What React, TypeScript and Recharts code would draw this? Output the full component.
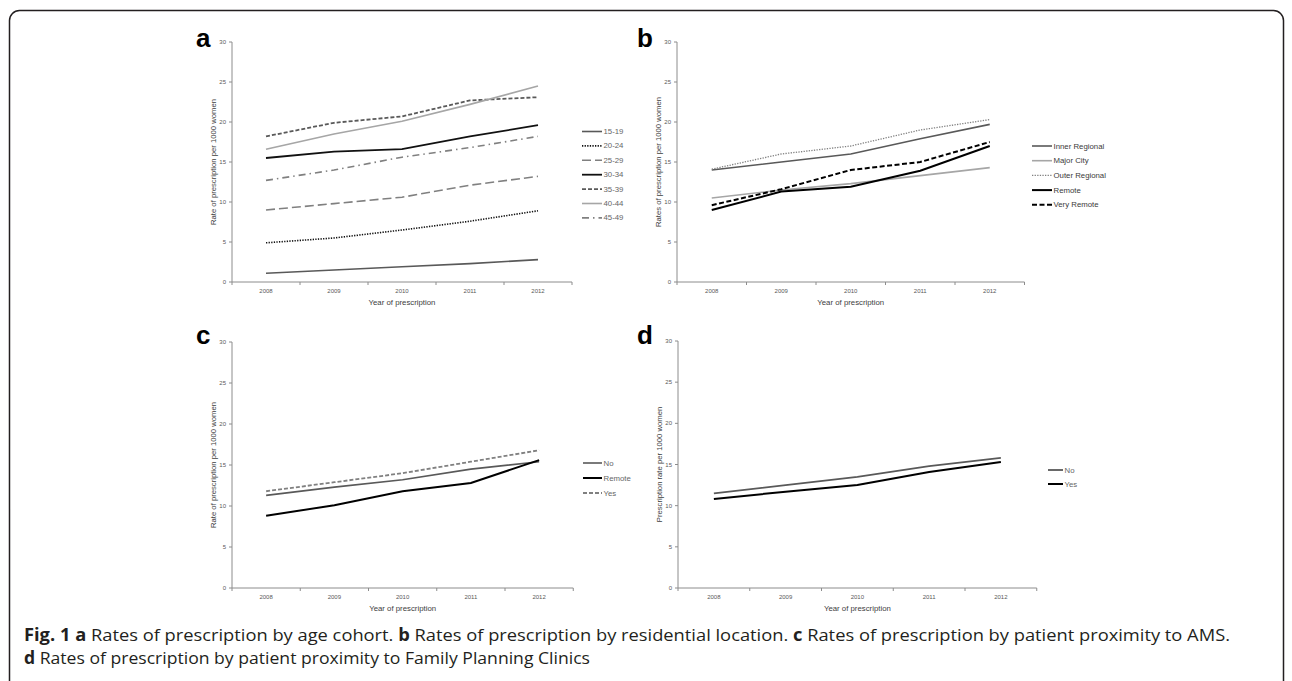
import React from "react";
import { LineChart, Line, XAxis, YAxis } from "recharts";

// ---------- data ----------
const years = ["2008", "2009", "2010", "2011", "2012"];
const yTicks = [0, 5, 10, 15, 20, 25, 30];

// Panel a: age cohorts
const age1519 = [1.1, 1.5, 1.9, 2.3, 2.8];
const age2024 = [4.9, 5.5, 6.5, 7.6, 8.9];
const age2529 = [9.0, 9.8, 10.6, 12.1, 13.2];
const age3034 = [15.5, 16.3, 16.6, 18.2, 19.6];
const age3539 = [18.2, 19.9, 20.7, 22.7, 23.1];
const age4044 = [16.6, 18.5, 20.1, 22.2, 24.5];
const age4549 = [12.7, 14.0, 15.6, 16.8, 18.2];

// Panel b: residential location
const innerRegional = [14.0, 15.0, 16.0, 17.9, 19.7];
const majorCity = [10.5, 11.5, 12.3, 13.3, 14.3];
const outerRegional = [14.1, 16.0, 17.0, 19.0, 20.3];
const remoteB = [9.0, 11.3, 11.9, 13.9, 17.0];
const veryRemote = [9.6, 11.6, 14.0, 15.0, 17.5];

// Panel c: proximity to AMS
const amsNo = [11.3, 12.3, 13.2, 14.5, 15.4];
const amsRemote = [8.8, 10.1, 11.8, 12.8, 15.6];
const amsYes = [11.8, 12.9, 14.0, 15.4, 16.8];

// Panel d: proximity to Family Planning Clinics
const fpcNo = [11.5, 12.5, 13.5, 14.8, 15.8];
const fpcYes = [10.8, 11.7, 12.5, 14.1, 15.3];

// ---------- styles ----------
const axisColor = "#8c8c8c";
const tickColor = "#595959";
const chartFont = "'Liberation Sans', Arial, sans-serif";

type Series = {
  key: string;
  name: string;
  values: number[];
  color: string;
  width: number;
  dash?: string;
};

const seriesA: Series[] = [
  { key: "a1", name: "15-19", values: age1519, color: "#595959", width: 1.6 },
  { key: "a2", name: "20-24", values: age2024, color: "#111111", width: 1.6, dash: "1.3 1.3" },
  { key: "a3", name: "25-29", values: age2529, color: "#808080", width: 1.6, dash: "9 4" },
  { key: "a4", name: "30-34", values: age3034, color: "#111111", width: 1.8 },
  { key: "a5", name: "35-39", values: age3539, color: "#595959", width: 1.8, dash: "4 2" },
  { key: "a6", name: "40-44", values: age4044, color: "#a6a6a6", width: 1.6 },
  { key: "a7", name: "45-49", values: age4549, color: "#808080", width: 1.6, dash: "7 4 1.5 4" },
];

const seriesB: Series[] = [
  { key: "b1", name: "Inner Regional", values: innerRegional, color: "#595959", width: 1.6 },
  { key: "b2", name: "Major City", values: majorCity, color: "#a6a6a6", width: 1.6 },
  { key: "b3", name: "Outer Regional", values: outerRegional, color: "#808080", width: 1.3, dash: "1.3 1.3" },
  { key: "b4", name: "Remote", values: remoteB, color: "#000000", width: 2 },
  { key: "b5", name: "Very Remote", values: veryRemote, color: "#000000", width: 2, dash: "5 2.5" },
];

const seriesC: Series[] = [
  { key: "c1", name: "No", values: amsNo, color: "#595959", width: 1.6 },
  { key: "c2", name: "Remote", values: amsRemote, color: "#000000", width: 2 },
  { key: "c3", name: "Yes", values: amsYes, color: "#808080", width: 1.8, dash: "4 2" },
];

const seriesD: Series[] = [
  { key: "d1", name: "No", values: fpcNo, color: "#595959", width: 1.8 },
  { key: "d2", name: "Yes", values: fpcYes, color: "#000000", width: 2 },
];

type PanelCfg = {
  letter: string;
  yLabel: string;
  series: Series[];
  axisX: number;
  yTop: number;
  yBottom: number;
  band: number;
  legendX: number;
  legendY: number;
  legendGap: number;
  legendLen: number;
  legendColor: string;
  letterX: number;
  letterY: number;
};

const panels: PanelCfg[] = [
  {
    letter: "a",
    yLabel: "Rate of prescription per 1000 women",
    series: seriesA,
    axisX: 232, yTop: 42, yBottom: 282, band: 68,
    legendX: 582, legendY: 131.5, legendGap: 14.4, legendLen: 20, legendColor: "#666666",
    letterX: 196, letterY: 47,
  },
  {
    letter: "b",
    yLabel: "Rates of prescription per 1000 women",
    series: seriesB,
    axisX: 677, yTop: 42, yBottom: 282, band: 69.5,
    legendX: 1032, legendY: 146, legendGap: 14.7, legendLen: 20, legendColor: "#3a3a3a",
    letterX: 637, letterY: 47,
  },
  {
    letter: "c",
    yLabel: "Rate of prescription per 1000 women",
    series: seriesC,
    axisX: 232, yTop: 342, yBottom: 588, band: 68.25,
    legendX: 583, legendY: 463, legendGap: 15, legendLen: 19, legendColor: "#666666",
    letterX: 196, letterY: 344,
  },
  {
    letter: "d",
    yLabel: "Prescription rate per 1000 women",
    series: seriesD,
    axisX: 678, yTop: 341, yBottom: 588, band: 71.75,
    legendX: 1048, legendY: 470, legendGap: 14, legendLen: 15, legendColor: "#666666",
    letterX: 637, letterY: 344,
  },
];

const buildRows = (series: Series[]) =>
  years.map((year, i) => {
    const row: Record<string, string | number> = { year };
    series.forEach((s) => {
      row[s.key] = s.values[i];
    });
    return row;
  });

const makeXTick = (half: number, count: number) => (props: any) => {
  const { x, y, payload, index } = props;
  return (
    <g>
      <line x1={x - half} x2={x - half} y1={y} y2={y + 3} stroke={axisColor} strokeWidth={1} />
      {index === count - 1 && (
        <line x1={x + half} x2={x + half} y1={y} y2={y + 3} stroke={axisColor} strokeWidth={1} />
      )}
      <text
        x={x}
        y={y + 9}
        textAnchor="middle"
        dominantBaseline="central"
        fontSize={6}
        fontFamily={chartFont}
        fill={tickColor}
      >
        {payload.value}
      </text>
    </g>
  );
};

const LEFT_PAD = 42;
const TOP_PAD = 12;

function Panel({ cfg }: { cfg: PanelCfg }) {
  const plotW = cfg.band * 5;
  const plotH = cfg.yBottom - cfg.yTop;
  const left = cfg.axisX - LEFT_PAD;
  const top = cfg.yTop - TOP_PAD;
  const width = LEFT_PAD + plotW + 10;
  const height = TOP_PAD + plotH + 40;
  const half = cfg.band / 2;
  const rows = buildRows(cfg.series);
  return (
    <div style={{ position: "absolute", left, top, width, height }}>
      <LineChart
        width={width}
        height={height}
        data={rows}
        margin={{ top: TOP_PAD, right: 10, bottom: 10, left: 0 }}
      >
        <XAxis
          dataKey="year"
          type="category"
          interval={0}
          padding={{ left: half, right: half }}
          tickLine={false}
          tickSize={0}
          tickMargin={0}
          axisLine={{ stroke: axisColor, strokeWidth: 1 }}
          tick={makeXTick(half, years.length)}
          height={30}
        />
        <YAxis
          type="number"
          domain={[0, 30]}
          ticks={yTicks}
          interval={0}
          width={LEFT_PAD}
          tickSize={3}
          tickMargin={3}
          axisLine={{ stroke: axisColor, strokeWidth: 1 }}
          tickLine={{ stroke: axisColor, strokeWidth: 1 }}
          tick={{ fontSize: 6, fill: tickColor, fontFamily: chartFont }}
        />
        {cfg.series.map((s) => (
          <Line
            key={s.key}
            dataKey={s.key}
            name={s.name}
            type="linear"
            stroke={s.color}
            strokeWidth={s.width}
            strokeDasharray={s.dash}
            dot={false}
            activeDot={false}
            isAnimationActive={false}
          />
        ))}
      </LineChart>
    </div>
  );
}

const captionFont = "'Open Sans', sans-serif";

function Overlay() {
  return (
    <svg
      width={1292}
      height={681}
      style={{ position: "absolute", left: 0, top: 0, pointerEvents: "none" }}
    >
      <rect x={9.5} y={10.5} width={1274} height={760} rx={10} ry={10} fill="none" stroke="#231f20" strokeWidth={1.5} />
      {panels.map((p) => {
        const cx = p.axisX + (p.band * 5) / 2;
        const cy = (p.yTop + p.yBottom) / 2;
        const tx = p.axisX - 19;
        return (
          <g key={p.letter}>
            <text x={p.letterX} y={p.letterY} fontSize={26} fontWeight={700} fontFamily="'Liberation Sans', Arial, sans-serif" fill="#000">
              {p.letter}
            </text>
            <text
              x={cx}
              y={p.yBottom + 20}
              textAnchor="middle"
              dominantBaseline="central"
              fontSize={7.8}
              fontFamily={chartFont}
              fill="#404040"
            >
              Year of prescription
            </text>
            <text
              x={tx}
              y={cy}
              textAnchor="middle"
              dominantBaseline="central"
              fontSize={7.7}
              fontFamily={chartFont}
              fill="#404040"
              transform={`rotate(-90 ${tx} ${cy})`}
            >
              {p.yLabel}
            </text>
            {p.series.map((s, i) => {
              const y = p.legendY + i * p.legendGap;
              return (
                <g key={s.key}>
                  <line
                    x1={p.legendX}
                    x2={p.legendX + p.legendLen}
                    y1={y}
                    y2={y}
                    stroke={s.color}
                    strokeWidth={s.width}
                    strokeDasharray={s.dash}
                  />
                  <text
                    x={p.legendX + p.legendLen + 1.5}
                    y={y}
                    dominantBaseline="central"
                    fontSize={7.8}
                    fontFamily={chartFont}
                    fill={p.legendColor}
                  >
                    {s.name}
                  </text>
                </g>
              );
            })}
          </g>
        );
      })}
      <text
        x={24}
        y={641}
        fontSize={17}
        fontFamily={captionFont}
        fill="#231f20"
        textLength={1206}
        lengthAdjust="spacingAndGlyphs"
      >
        <tspan fontWeight={700}>{"Fig. 1 a"}</tspan>
        {" Rates of prescription by age cohort. "}
        <tspan fontWeight={700}>{"b"}</tspan>
        {" Rates of prescription by residential location. "}
        <tspan fontWeight={700}>{"c"}</tspan>
        {" Rates of prescription by patient proximity to AMS."}
      </text>
      <text
        x={24}
        y={664}
        fontSize={17}
        fontFamily={captionFont}
        fill="#231f20"
        textLength={566}
        lengthAdjust="spacingAndGlyphs"
      >
        <tspan fontWeight={700}>{"d"}</tspan>
        {" Rates of prescription by patient proximity to Family Planning Clinics"}
      </text>
    </svg>
  );
}

export default function App() {
  return (
    <div style={{ position: "absolute", left: 0, top: 0, width: 1292, height: 681, overflow: "hidden", background: "#fff" }}>
      {panels.map((p) => (
        <Panel key={p.letter} cfg={p} />
      ))}
      <Overlay />
    </div>
  );
}
